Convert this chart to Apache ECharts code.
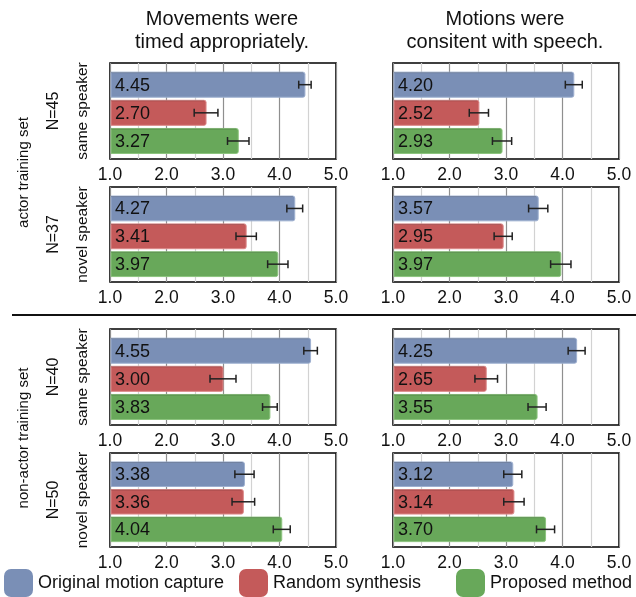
<!DOCTYPE html>
<html><head><meta charset="utf-8">
<script src="https://cdn.jsdelivr.net/npm/echarts@6/dist/echarts.min.js"></script>
<style>html,body{margin:0;padding:0;background:#fff}#c{width:636px;height:597px}</style>
</head><body><div id="c"></div>
<script>
// ---- data ----
const methods = ['Original motion capture', 'Random synthesis', 'Proposed method'];
const columnTitles = ['Movements were\ntimed appropriately.', 'Motions were\nconsitent with speech.'];
const groupLabels = ['actor training set', 'non-actor training set'];
const rowN = ['N=45', 'N=37', 'N=40', 'N=50'];
const rowSpeaker = ['same speaker', 'novel speaker', 'same speaker', 'novel speaker'];
const xTicks = [1.0, 2.0, 3.0, 4.0, 5.0];
// rows: actor/same, actor/novel, non-actor/same, non-actor/novel ; cols: methods
const timingMean = [[4.45, 2.70, 3.27], [4.27, 3.41, 3.97], [4.55, 3.00, 3.83], [3.38, 3.36, 4.04]];
const timingErr  = [[0.11, 0.21, 0.19], [0.14, 0.18, 0.18], [0.12, 0.23, 0.13], [0.17, 0.20, 0.15]];
const speechMean = [[4.20, 2.52, 2.93], [3.57, 2.95, 3.97], [4.25, 2.65, 3.55], [3.12, 3.14, 3.70]];
const speechErr  = [[0.15, 0.17, 0.17], [0.17, 0.16, 0.18], [0.15, 0.20, 0.16], [0.16, 0.18, 0.16]];

// ---- styles / layout ----
const colors = ['#7a8fb6', '#c45a5a', '#68a85a'];
const strokes = ['#9eb0d0', '#dc8a8a', '#8cc47e'];
const FONT = '"Liberation Sans", Arial, sans-serif';
const colLeft = [110, 393];
const colWidth = 226;
const rowTop = [63, 187, 329, 453];
const rowHeight = [96, 95, 96, 94];

const chart = echarts.init(document.getElementById('c'), null, {renderer: 'canvas'});
const grids = [], xAxes = [], yAxes = [], series = [];
const means = [timingMean, speechMean];
const errs = [timingErr, speechErr];

let gi = 0;
for (let r = 0; r < 4; r++) {
  for (let c = 0; c < 2; c++) {
    grids.push({left: colLeft[c], top: rowTop[r], width: colWidth, height: rowHeight[r],
      show: true, borderColor: '#000', borderWidth: 1.6, backgroundColor: 'transparent', containLabel: false});
    xAxes.push({gridIndex: gi, type: 'value', min: 1, max: 5, interval: 0.5,
      axisLine: {show: false}, axisTick: {show: false},
      axisLabel: {fontSize: 17.5, color: '#111', fontFamily: FONT, margin: 7,
        formatter: v => (xTicks.indexOf(v) >= 0 ? v.toFixed(1) : '')},
      splitLine: {show: true, lineStyle: {color: ['#8f8f8f', '#d2d2d2'], width: 1.2}}});
    yAxes.push({gridIndex: gi, type: 'value', min: -0.77, max: 2.64, inverse: true, show: false});
    for (let m = 0; m < 3; m++) {
      const v = means[c][r][m], e = errs[c][r][m];
      series.push({
        type: 'custom', name: methods[m], xAxisIndex: gi, yAxisIndex: gi,
        itemStyle: {color: colors[m]}, clip: false, z: 3,
        data: [[v, m, e]],
        renderItem: (params, api) => {
          const val = api.value(0), yi = api.value(1), er = api.value(2);
          const s = api.coord([1, yi]);
          const en = api.coord([val, yi]);
          const h = api.size([0, 1])[1] * 0.89;
          const lo = api.coord([val - er, yi]);
          const hi = api.coord([val + er, yi]);
          const cy = s[1];
          return {type: 'group', children: [
            {type: 'rect', shape: {x: s[0] + 1, y: cy - h / 2, width: en[0] - s[0] - 1, height: h, r: [0, 2, 2, 0]},
              style: {fill: colors[m], stroke: strokes[m], lineWidth: 1}},
            {type: 'line', shape: {x1: s[0] + 1, y1: cy - h / 2 + 0.5, x2: en[0] - 2, y2: cy - h / 2 + 0.5},
              style: {stroke: 'rgba(0,0,0,0.18)', lineWidth: 1}},
            {type: 'text', x: s[0] + 5, y: cy + 1,
              style: {text: val.toFixed(2), fill: '#111', font: '18px ' + FONT, verticalAlign: 'middle', align: 'left'}},
            {type: 'line', shape: {x1: lo[0], y1: cy, x2: hi[0], y2: cy}, style: {stroke: '#222', lineWidth: 1.5}},
            {type: 'line', shape: {x1: lo[0], y1: cy - 4, x2: lo[0], y2: cy + 4}, style: {stroke: '#222', lineWidth: 1.5}},
            {type: 'line', shape: {x1: hi[0], y1: cy - 4, x2: hi[0], y2: cy + 4}, style: {stroke: '#222', lineWidth: 1.5}}
          ]};
        }
      });
    }
    gi++;
  }
}

const graphics = [];
// column titles
for (let c = 0; c < 2; c++) {
  graphics.push({type: 'text', x: colLeft[c] + colWidth / 2 - 1, y: 8,
    style: {text: columnTitles[c], font: '20px ' + FONT, fill: '#111', align: 'center', verticalAlign: 'top', lineHeight: 23}});
}
// row labels
for (let r = 0; r < 4; r++) {
  const cy = rowTop[r] + rowHeight[r] / 2;
  graphics.push({type: 'text', x: 83, y: cy, rotation: Math.PI / 2,
    style: {text: rowSpeaker[r], font: '15.5px ' + FONT, fill: '#111', align: 'center', verticalAlign: 'middle'}});
  graphics.push({type: 'text', x: 54, y: cy, rotation: Math.PI / 2,
    style: {text: rowN[r], font: '16px ' + FONT, fill: '#111', align: 'center', verticalAlign: 'middle'}});
}
for (let g = 0; g < 2; g++) {
  const cy = (rowTop[2 * g] + rowTop[2 * g + 1] + rowHeight[2 * g + 1]) / 2;
  graphics.push({type: 'text', x: 24, y: cy, rotation: Math.PI / 2,
    style: {text: groupLabels[g], font: '15px ' + FONT, fill: '#111', align: 'center', verticalAlign: 'middle'}});
}
// separator
graphics.push({type: 'line', shape: {x1: 12, y1: 315, x2: 636, y2: 315}, style: {stroke: '#111', lineWidth: 2}});

const legendLeft = [4, 239, 456];
const legends = methods.map((name, i) => ({
  data: [name], left: legendLeft[i], top: 569, icon: 'roundRect', itemWidth: 29, itemHeight: 28,
  itemGap: 0, padding: 0, selectedMode: false,
  textStyle: {fontSize: 18, color: '#111', fontFamily: FONT, padding: [0, 0, 0, 0]}
}));

chart.setOption({
  animation: false,
  backgroundColor: '#fff',
  grid: grids, xAxis: xAxes, yAxis: yAxes, series: series,
  legend: legends,
  graphic: graphics
});
</script></body></html>
